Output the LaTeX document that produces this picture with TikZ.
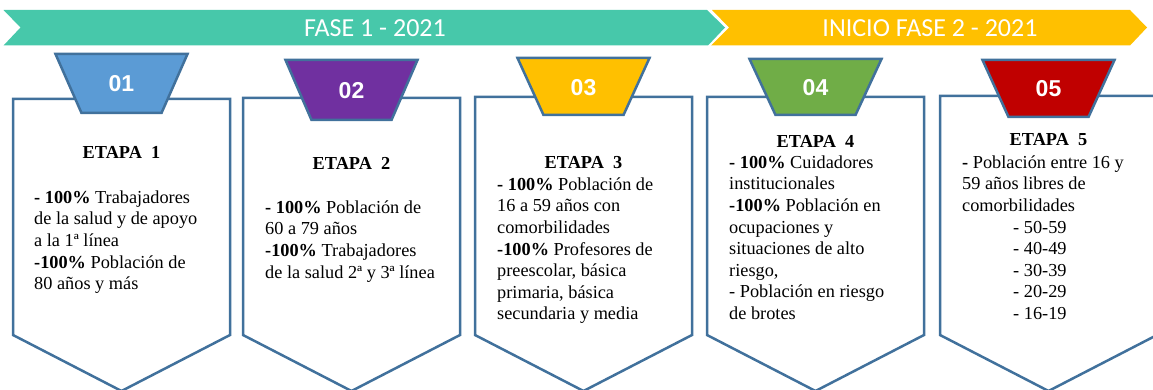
\documentclass[tikz,border=0pt]{standalone}
\usepackage{fontspec}
\setmainfont{Liberation Serif}
\newfontfamily\fuentebanda{Carlito}
\newfontfamily\fuentecifra{Liberation Sans}
\definecolor{verdeagua}{HTML}{47C8AA}
\definecolor{amarillo}{HTML}{FFC000}
\definecolor{azulborde}{HTML}{41719C}
\definecolor{azul}{HTML}{5B9BD5}
\definecolor{morado}{HTML}{7030A0}
\definecolor{verde}{HTML}{70AD47}
\definecolor{rojo}{HTML}{C00000}
\begin{document}
\begin{tikzpicture}[x=1pt,y=-1pt]
	% Styles (MODIFIABLES)
	\tikzstyle{banda}=[draw=none]
	\tikzstyle{textobanda}=[text=white,inner sep=0pt,font=\fuentebanda\fontsize{26}{30}\selectfont]
	\tikzstyle{caja}=[draw=azulborde,line width=2.5pt,fill=white]
	\tikzstyle{trapecio}=[draw=azulborde,line width=2.5pt]
	\tikzstyle{cifra}=[text=white,inner sep=0pt,font=\fuentecifra\bfseries\fontsize{23}{26}\selectfont]
	\tikzstyle{titulo}=[anchor=base,inner sep=0pt,font=\bfseries\fontsize{18.3}{21.6}\selectfont]
	\tikzstyle{cuerpo}=[align=left,anchor=north west,inner sep=0pt,font=\fontsize{18.3}{21.6}\selectfont]
	% Dimensions (MODIFIABLES)
	\def\AnchoCaja{217}
	\def\MedioCaja{108.5}
	\def\BaseLado{335}
	\def\Punta{391}
	\def\ArribaTrap{66}
	\def\AbajoTrap{40}
	\def\BordeA{13}
	\def\BordeB{243}
	\def\BordeC{475}
	\def\BordeD{707}
	\def\BordeE{940}
	\def\Strut{15.1}
	\useasboundingbox (0,0) rectangle (1153,390);
	% Bandas
	\fill[banda,verdeagua] (3.5,10) -- (707,10) -- (725,27.5) -- (708,45.5) -- (3.5,45.5) -- (20.5,27.5) -- cycle;
	\fill[banda,amarillo] (712,10) -- (1130,10) -- (1147,27.5) -- (1130,45.5) -- (711,45.5) -- (729,27.5) -- cycle;
	\node[textobanda] (fase1) at (375,28) {FASE 1 - 2021};
	\node[textobanda] (fase2) at (930,28) {INICIO FASE 2 - 2021};
	% Cajas
	\draw[caja] ({\BordeA},99) -- ({\BordeA},\BaseLado) -- ({\BordeA+\MedioCaja},\Punta) -- ({\BordeA+\AnchoCaja},\BaseLado) -- ({\BordeA+\AnchoCaja},99) -- cycle;
	\draw[caja] ({\BordeB},98) -- ({\BordeB},\BaseLado) -- ({\BordeB+\MedioCaja},\Punta) -- ({\BordeB+\AnchoCaja},\BaseLado) -- ({\BordeB+\AnchoCaja},98) -- cycle;
	\draw[caja] ({\BordeC},97) -- ({\BordeC},\BaseLado) -- ({\BordeC+\MedioCaja},\Punta) -- ({\BordeC+\AnchoCaja},\BaseLado) -- ({\BordeC+\AnchoCaja},97) -- cycle;
	\draw[caja] ({\BordeD},97) -- ({\BordeD},\BaseLado) -- ({\BordeD+\MedioCaja},\Punta) -- ({\BordeD+\AnchoCaja},\BaseLado) -- ({\BordeD+\AnchoCaja},97) -- cycle;
	\draw[caja] ({\BordeE},96) -- ({\BordeE},\BaseLado) -- ({\BordeE+\MedioCaja},\Punta) -- ({\BordeE+\AnchoCaja},\BaseLado) -- ({\BordeE+\AnchoCaja},96) -- cycle;
	% Trapecios
	\draw[trapecio,fill=azul] ({\BordeA+\MedioCaja-\ArribaTrap},54) -- ({\BordeA+\MedioCaja+\ArribaTrap},54) -- ({\BordeA+\MedioCaja+\AbajoTrap},113) -- ({\BordeA+\MedioCaja-\AbajoTrap},113) -- cycle;
	\draw[trapecio,fill=morado] ({\BordeB+\MedioCaja-\ArribaTrap},60) -- ({\BordeB+\MedioCaja+\ArribaTrap},60) -- ({\BordeB+\MedioCaja+\AbajoTrap},120) -- ({\BordeB+\MedioCaja-\AbajoTrap},120) -- cycle;
	\draw[trapecio,fill=amarillo] ({\BordeC+\MedioCaja-\ArribaTrap},58) -- ({\BordeC+\MedioCaja+\ArribaTrap},58) -- ({\BordeC+\MedioCaja+\AbajoTrap},115) -- ({\BordeC+\MedioCaja-\AbajoTrap},115) -- cycle;
	\draw[trapecio,fill=verde] ({\BordeD+\MedioCaja-\ArribaTrap},59) -- ({\BordeD+\MedioCaja+\ArribaTrap},59) -- ({\BordeD+\MedioCaja+\AbajoTrap},115) -- ({\BordeD+\MedioCaja-\AbajoTrap},115) -- cycle;
	\draw[trapecio,fill=rojo] ({\BordeE+\MedioCaja-\ArribaTrap},60) -- ({\BordeE+\MedioCaja+\ArribaTrap},60) -- ({\BordeE+\MedioCaja+\AbajoTrap},117) -- ({\BordeE+\MedioCaja-\AbajoTrap},117) -- cycle;
	% Cifras
	\node[cifra] (n1) at ({\BordeA+\MedioCaja},84) {01};
	\node[cifra] (n2) at ({\BordeB+\MedioCaja},91) {02};
	\node[cifra] (n3) at ({\BordeC+\MedioCaja},88) {03};
	\node[cifra] (n4) at ({\BordeD+\MedioCaja},88) {04};
	\node[cifra] (n5) at ({\BordeE+\MedioCaja},89) {05};
	% Etapas
	\node[titulo] (etapa1) at ({\BordeA+\MedioCaja},159) {ETAPA\ \ 1};
	\node[titulo] (etapa2) at ({\BordeB+\MedioCaja},170) {ETAPA\ \ 2};
	\node[titulo] (etapa3) at ({\BordeC+\MedioCaja},169) {ETAPA\ \ 3};
	\node[titulo] (etapa4) at ({\BordeD+\MedioCaja},148) {ETAPA\ \ 4};
	\node[titulo] (etapa5) at ({\BordeE+\MedioCaja},146) {ETAPA\ \ 5};
	%
	\node[cuerpo] (lista1) at (34,{203-\Strut}) {\strut\textbf{- 100\%} Trabajadores\\de la salud y de apoyo\\a la 1ª línea\\\textbf{-100\%} Población de\\80 años y más};
	\node[cuerpo] (lista2) at (265,{213-\Strut}) {\strut\textbf{- 100\%} Población de\\60 a 79 años\\\textbf{-100\%} Trabajadores\\de la salud 2ª y 3ª línea};
	\node[cuerpo] (lista3) at (497,{190-\Strut}) {\strut\textbf{- 100\%} Población de\\16 a 59 años con\\comorbilidades\\\textbf{-100\%} Profesores de\\preescolar, básica\\primaria, básica\\secundaria y media};
	\node[cuerpo] (lista4) at (729,{168-\Strut}) {\strut\textbf{- 100\%} Cuidadores\\institucionales\\\textbf{-100\%} Población en\\ocupaciones y\\situaciones de alto\\riesgo,\\- Población en riesgo\\de brotes};
	\node[cuerpo] (lista5) at (962,{168-\Strut}) {\strut\textbf{-} Población entre 16 y\\59 años libres de\\comorbilidades\\\hspace*{51pt}- 50-59\\\hspace*{51pt}- 40-49\\\hspace*{51pt}- 30-39\\\hspace*{51pt}- 20-29\\\hspace*{51pt}- 16-19};
\end{tikzpicture}
\end{document}
